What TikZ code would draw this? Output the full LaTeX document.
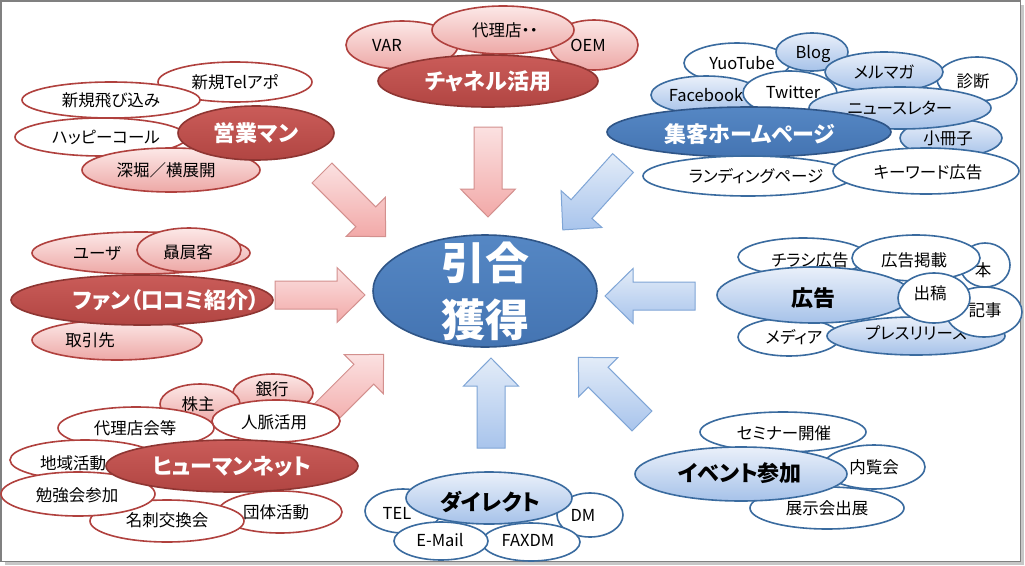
\documentclass[tikz,border=0pt]{standalone}
\usepackage{fontspec}
\setmainfont[RawFeature=+palt]{Noto Sans CJK JP}
\usetikzlibrary{shapes.geometric}
\definecolor{rline}{HTML}{B0413E}
\definecolor{rdk1}{HTML}{CA5C59}
\definecolor{rdk2}{HTML}{B14542}
\definecolor{rdkline}{HTML}{8E3532}
\definecolor{rlt1}{HTML}{FCE8E7}
\definecolor{rlt2}{HTML}{EDA8A6}
\definecolor{bline}{HTML}{3A6B9F}
\definecolor{bdk1}{HTML}{5587C4}
\definecolor{bdk2}{HTML}{4474B2}
\definecolor{bdkline}{HTML}{2F5587}
\definecolor{blt1}{HTML}{EAF0FA}
\definecolor{blt2}{HTML}{A6C2E9}
\definecolor{ra1}{HTML}{FBE1E1}
\definecolor{ra2}{HTML}{F2A9A8}
\definecolor{raline}{HTML}{D3908E}
\definecolor{ba1}{HTML}{E3ECF8}
\definecolor{ba2}{HTML}{A8C4EC}
\definecolor{baline}{HTML}{7FA5D6}
\tikzset{
  bub/.style={ellipse, inner sep=0pt, outer sep=0pt, line width=1.6pt},
  dr/.style={bub, draw=rdkline, top color=rdk1, bottom color=rdk2},
  lr/.style={bub, draw=rline, top color=rlt1, bottom color=rlt2},
  wr/.style={bub, draw=rline, fill=white},
  db/.style={bub, draw=bdkline, top color=bdk1, bottom color=bdk2},
  lb/.style={bub, draw=bline, top color=blt1, bottom color=blt2},
  wb/.style={bub, draw=bline, fill=white},
  lbl/.style={font=\fontsize{16.5}{19}\selectfont, inner sep=0pt, text=black},
  mainw/.style={font=\fontsize{22}{26}\selectfont\bfseries, inner sep=0pt, text=white},
  mainb/.style={font=\fontsize{22}{26}\selectfont\bfseries, inner sep=0pt, text=black},
  bigw/.style={font=\fontsize{44}{57}\selectfont\bfseries, inner sep=0pt, text=white, align=center},
  redarr/.style={draw=raline, line width=1pt, top color=ra1, bottom color=ra2},
  bluearr/.style={draw=baline, line width=1pt, top color=ba1, bottom color=ba2},
  barr/.pic={\path[#1] (0,-14) -- (62,-14) -- (62,-27.5) -- (90,0) -- (62,27.5) -- (62,14) -- (0,14) -- cycle;}
}
% name, ellipse style, text style, x, y(screen), rx, ry, text, text shift
\newcommand\bub[9]{%
  \node[#2, minimum width={2*#6}, minimum height={2*#7}] (#1) at (#4,-#5) {};
  \node[#3] (#1t) at ([shift={(#9)}]#1.center) {#8};
}
\begin{document}
\begin{tikzpicture}[x=1pt,y=1pt]
\useasboundingbox (0,0) rectangle (1025,-565);
\fill[white] (0,0) rectangle (1025,-565);
\draw[black!22, line width=3pt] (5,-563.5) -- (1022.5,-563.5) -- (1022.5,-5);
\draw[black!50, line width=1.5pt] (1,-1) rectangle (1020.5,-561.5);

% block arrows
\path (322,-173) pic[rotate=-45] {barr=redarr};
\path (488,-127) pic[rotate=-90] {barr=redarr};
\path (623,-163) pic[rotate=-132] {barr=bluearr};
\path (275,-295) pic {barr=redarr};
\path (695,-296) pic[rotate=180] {barr=bluearr};
\path (320,-418) pic[rotate=45] {barr=redarr};
\path (491,-448) pic[rotate=90] {barr=bluearr};
\path (642,-421) pic[rotate=135] {barr=bluearr};

% centre
\node[db, minimum width=224, minimum height=112] (center) at (485,-291) {};
\node[bigw] (centert) at (center.center) {引合\\獲得};

% 営業マン
\bub{tel}{wr}{lbl}{235}{82}{77}{20}{新規Telアポ}{0,0}
\bub{tobi}{wr}{lbl}{111}{100}{89}{18}{新規飛び込み}{0,0}
\bub{happy}{wr}{lbl}{101}{137}{86}{19}{ハッピーコール}{5,0}
\bub{fuka}{lr}{lbl}{171}{170}{89}{22}{深堀／横展開}{-5,0}
\bub{eigyo}{dr}{mainw}{256}{133}{78}{27}{営業マン}{0,0}

% チャネル活用
\bub{var}{lr}{lbl}{402}{45}{56}{24}{VAR}{-15,0}
\bub{oem}{lr}{lbl}{594}{45}{44}{25}{OEM}{-6,0}
\bub{dairi}{lr}{lbl}{503}{30}{71}{24}{代理店・・}{2,0}
\bub{channel}{dr}{mainw}{488}{81}{110}{26}{チャネル活用}{0,0}

% 集客ホームページ
\bub{yt}{wb}{lbl}{737}{63}{53}{20}{YuoTube}{5,0}
\bub{blog}{lb}{lbl}{812}{52}{36}{19}{Blog}{1,-2}
\bub{shindan}{wb}{lbl}{977}{79}{40}{22}{診断}{-4,-2}
\bub{merumaga}{lb}{lbl}{884}{72}{59}{20}{メルマガ}{0,0}
\bub{fb}{lb}{lbl}{706}{95}{55}{19}{Facebook}{0,0}
\bub{tw}{wb}{lbl}{790}{93}{47}{22}{Twitter}{3,1}
\bub{sasshi}{lb}{lbl}{951}{138}{51}{19}{小冊子}{-3,0}
\bub{news}{lb}{lbl}{900}{108}{91}{21}{ニュースレター}{0,0}
\bub{shukyaku}{db}{mainw}{749}{132}{142}{25}{集客ホームページ}{1,-2}
\bub{lp}{wb}{lbl}{748}{176}{105}{20}{ランディングページ}{8,0}
\bub{kw}{wb}{lbl}{926}{171}{93}{23}{キーワード広告}{2,-1}

% ファン
\bub{user}{lr}{lbl}{141}{253}{109}{21}{ユーザ}{-44,0}
\bub{hiiki}{lr}{lbl}{189}{250}{52}{22}{贔屓客}{-1,-2}
\bub{torihiki}{lr}{lbl}{117}{340}{85}{20}{取引先}{-27,0}
\bub{fan}{dr}{mainw}{142}{300}{131}{25}{ファン（口コミ紹介）}{24,0}

% ヒューマンネット
\bub{ginko}{lr}{lbl}{273}{393}{40}{19}{銀行}{-1,4}
\bub{kabu}{lr}{lbl}{200}{404}{40}{20}{株主}{-2,0}
\bub{jinmyaku}{wr}{lbl}{276}{421}{64}{21}{人脈活用}{-2,-1}
\bub{dairikai}{wr}{lbl}{136}{428}{78}{21}{代理店会等}{-1,0}
\bub{chiiki}{wr}{lbl}{85}{460}{75}{20}{地域活動}{-12,-3}
\bub{dantai}{wr}{lbl}{280}{512}{62}{21}{団体活動}{-4,0}
\bub{meishi}{wr}{lbl}{167}{521}{77}{21}{名刺交換会}{0,1}
\bub{benkyo}{wr}{lbl}{78}{494}{77}{22}{勉強会参加}{-1,-1}
\bub{human}{dr}{mainw}{232}{466}{126}{26}{ヒューマンネット}{0,-1}

% ダイレクト
\bub{telx}{wb}{lbl}{403}{511}{38}{22}{TEL}{-6,-2}
\bub{dm}{wb}{lbl}{590}{515}{33}{22}{DM}{-7,0}
\bub{fax}{wb}{lbl}{531}{542}{49}{19}{FAXDM}{-3,2}
\bub{email}{wb}{lbl}{441}{541}{47}{19}{E-Mail}{-1,1}
\bub{direct}{lb}{mainb}{489}{498}{83}{26}{ダイレクト}{1,-4}

% イベント参加
\bub{seminar}{wb}{lbl}{783}{432}{83}{20}{セミナー開催}{1,-1}
\bub{nairan}{wb}{lbl}{874}{467}{51}{22}{内覧会}{0,0}
\bub{tenji}{wb}{lbl}{827}{508}{77}{21}{展示会出展}{0,0}
\bub{event}{lb}{mainb}{741}{474}{106}{27}{イベント参加}{-1,1}

% 広告
\bub{chirashi}{wb}{lbl}{803}{257}{65}{19}{チラシ広告}{7,-3}
\bub{hon}{wb}{lbl}{985}{265}{25}{22}{本}{-2,-5}
\bub{keisai}{wb}{lbl}{916}{258}{64}{23}{広告掲載}{-2,-2}
\bub{media}{wb}{lbl}{789}{337}{51}{19}{メディア}{5,0}
\bub{press}{lb}{lbl}{916}{336}{89}{19}{プレスリリース}{0,3}
\bub{kiji}{wb}{lbl}{984}{312}{38}{25}{記事}{1,2}
\bub{koukoku}{lb}{mainb}{814}{295}{97}{28}{広告}{-1,-3}
\bub{shukko}{wb}{lbl}{934}{298}{36}{25}{出稿}{-4,5}
\end{tikzpicture}
\end{document}
